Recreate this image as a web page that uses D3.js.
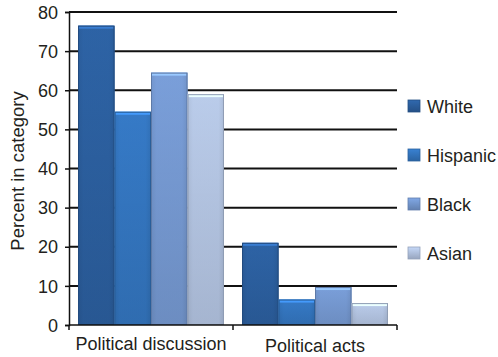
<!DOCTYPE html>
<html>
<head>
<meta charset="utf-8">
<script src="https://cdn.jsdelivr.net/npm/d3@7"></script>
<style>
  body { margin: 0; background: #fff; }
  svg text { font-family: "Liberation Sans", Arial, sans-serif; fill: #231f20; }
</style>
</head>
<body>
<div id="chart"></div>
<script>
// chart data
const categories = ["Political discussion", "Political acts"];
const groups = ["White", "Hispanic", "Black", "Asian"];
const values = {
  "White":    [76.5, 21],
  "Hispanic": [54.5, 6.5],
  "Black":    [64.5, 9.7],
  "Asian":    [59, 5.6]
};
const yTicks = [0, 10, 20, 30, 40, 50, 60, 70, 80];
const colors = ["#2b5e9d", "#3374bd", "#7497cf", "#b1c2df"];

const width = 498, height = 357;
const margin = { top: 12, right: 101, bottom: 32, left: 69 };

const svg = d3.select("#chart").append("svg")
  .attr("width", width).attr("height", height);

const defs = svg.append("defs");
colors.forEach((c, i) => {
  const g = defs.append("linearGradient").attr("id", "grad" + i)
    .attr("x1", 0).attr("x2", 0).attr("y1", 0).attr("y2", 1);
  g.append("stop").attr("offset", "0%").attr("stop-color", d3.color(c).brighter(0.3));
  g.append("stop").attr("offset", "100%").attr("stop-color", d3.color(c).darker(0.45));
  const h = defs.append("linearGradient").attr("id", "hgrad" + i)
    .attr("x1", 0).attr("x2", 1).attr("y1", 0).attr("y2", 0);
  h.append("stop").attr("offset", "0%").attr("stop-color", d3.color(c).darker(0.3));
  h.append("stop").attr("offset", "15%").attr("stop-color", c);
  h.append("stop").attr("offset", "85%").attr("stop-color", c);
  h.append("stop").attr("offset", "100%").attr("stop-color", d3.color(c).darker(0.4));
});

const x0 = d3.scaleBand().domain(categories)
  .range([margin.left, width - margin.right]).paddingInner(0.11).paddingOuter(0.055);
const x1 = d3.scaleBand().domain(groups).range([0, x0.bandwidth()]);
const y = d3.scaleLinear().domain([0, 80]).range([height - margin.bottom, margin.top]);

// gridlines
svg.append("g")
  .selectAll("line").data(yTicks.filter(t => t > 0)).join("line")
  .attr("x1", margin.left).attr("x2", width - margin.right)
  .attr("y1", d => y(d)).attr("y2", d => y(d))
  .attr("stroke", "#111").attr("stroke-width", 2);

// bars
const bars = svg.append("g");
categories.forEach((cat, ci) => {
  groups.forEach((g, gi) => {
    const v = values[g][ci];
    const bx = x0(cat) + x1(g), bw = x1.bandwidth();
    const by = y(v), bh = y(0) - y(v);
    bars.append("rect").attr("x", bx).attr("y", by).attr("width", bw).attr("height", bh)
      .attr("fill", `url(#grad${gi})`);
    bars.append("rect").attr("x", bx).attr("y", by).attr("width", bw).attr("height", bh)
      .attr("fill", `url(#hgrad${gi})`).attr("opacity", 0.55);
    bars.append("rect").attr("x", bx + 1).attr("y", by).attr("width", bw - 2).attr("height", 3)
      .attr("fill", d3.color(colors[gi]).brighter(0.8));
    bars.append("rect").attr("x", bx + 0.5).attr("y", by + 0.5).attr("width", bw - 1).attr("height", bh - 1)
      .attr("fill", "none").attr("stroke", d3.color(colors[gi]).darker(0.6)).attr("stroke-width", 1);
  });
});

// y axis
const yAxis = svg.append("g").attr("transform", `translate(${margin.left},0)`)
  .call(d3.axisLeft(y).tickValues(yTicks).tickSize(4).tickPadding(7));
yAxis.select(".domain").attr("stroke", "#111").attr("stroke-width", 1.5);
yAxis.selectAll(".tick line").attr("stroke", "#111").attr("stroke-width", 1.5);
yAxis.selectAll("text").style("font-size", "18px").attr("dy", "0.34em");

// x axis
svg.append("line")
  .attr("x1", margin.left).attr("x2", width - margin.right)
  .attr("y1", y(0)).attr("y2", y(0))
  .attr("stroke", "#111").attr("stroke-width", 1.5);
const bounds = [margin.left, (x0(categories[0]) + x0.bandwidth() + x0(categories[1])) / 2, width - margin.right];
svg.append("g").selectAll("line").data(bounds).join("line")
  .attr("x1", d => d).attr("x2", d => d)
  .attr("y1", y(0)).attr("y2", y(0) + 5)
  .attr("stroke", "#111").attr("stroke-width", 1.5);
svg.append("g").selectAll("text").data(categories).join("text")
  .attr("x", d => x0(d) + x0.bandwidth() / 2)
  .attr("y", (d, i) => y(0) + 25 + i * 2)
  .attr("text-anchor", "middle")
  .style("font-size", "18px")
  .text(d => d);

// y axis title
svg.append("text")
  .attr("transform", `translate(24,171) rotate(-90)`)
  .attr("text-anchor", "middle")
  .style("font-size", "18.5px")
  .text("Percent in category");

// legend
const legend = svg.append("g").selectAll("g").data(groups).join("g")
  .attr("transform", (d, i) => `translate(408,${106 + i * 49})`);
legend.append("rect").attr("x", 0).attr("y", -6).attr("width", 12).attr("height", 12)
  .attr("fill", (d, i) => `url(#grad${i})`)
  .attr("stroke", (d, i) => d3.color(colors[i]).darker(0.5)).attr("stroke-width", 0.8);
legend.append("text").attr("x", 19).attr("y", 6.5)
  .style("font-size", "18px")
  .text(d => d);
</script>
</body>
</html>
